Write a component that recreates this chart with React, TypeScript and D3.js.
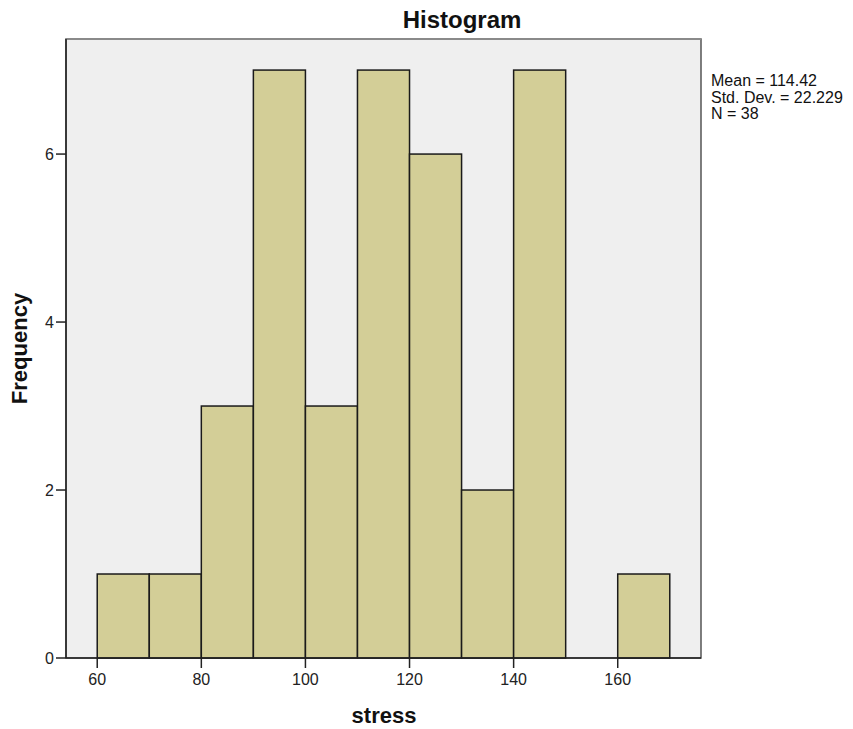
import * as React from "react";
import * as d3 from "d3";

// stress histogram, bins of width 10 starting at 60
const binStarts: number[] = [60, 70, 80, 90, 100, 110, 120, 130, 140, 150, 160];
const counts: number[] = [1, 1, 3, 7, 3, 7, 6, 2, 7, 0, 1];
const binWidth = 10;
const xTicks: number[] = [60, 80, 100, 120, 140, 160];
const yTicks: number[] = [0, 2, 4, 6];
const statsLines: string[] = ["Mean = 114.42", "Std. Dev. = 22.229", "N = 38"];

const width = 853;
const height = 729;
const plot = { left: 66, right: 701, top: 39, bottom: 658 };

const xScale = d3.scaleLinear().domain([54, 176]).range([plot.left, plot.right]);
const yScale = d3.scaleLinear().domain([0, 7.37]).range([plot.bottom, plot.top]);

const font = "'Liberation Sans', Arial, sans-serif";

export default function App() {
  return (
    <svg
      width={width}
      height={height}
      style={{ position: "absolute", left: 0, top: 0, background: "#fff" }}
      fontFamily={font}
    >
      <text x={462} y={28} textAnchor="middle" fontSize={24} fontWeight="bold" fill="#111">
        Histogram
      </text>

      <rect
        x={plot.left}
        y={plot.top}
        width={plot.right - plot.left}
        height={plot.bottom - plot.top}
        fill="#efefef"
        stroke="#555"
        strokeWidth={1.5}
      />
      <line x1={plot.left} x2={plot.right} y1={plot.top} y2={plot.top} stroke="#8a8a8a" strokeWidth={2} />

      {binStarts.map((b, i) =>
        counts[i] > 0 ? (
          <rect
            key={b}
            x={xScale(b)}
            y={yScale(counts[i])}
            width={xScale(b + binWidth) - xScale(b)}
            height={yScale(0) - yScale(counts[i])}
            fill="#d3ce97"
            stroke="#1a1a1a"
            strokeWidth={1.5}
          />
        ) : null
      )}

      <line x1={plot.left} x2={plot.left} y1={plot.top} y2={plot.bottom} stroke="#222" strokeWidth={1.5} />
      <line x1={plot.left} x2={plot.right} y1={plot.bottom} y2={plot.bottom} stroke="#222" strokeWidth={1.5} />

      {xTicks.map(t => (
        <g key={t}>
          <line x1={xScale(t)} x2={xScale(t)} y1={plot.bottom} y2={plot.bottom + 10} stroke="#222" strokeWidth={1.5} />
          <text x={xScale(t)} y={685} textAnchor="middle" fontSize={16} fill="#222">
            {t}
          </text>
        </g>
      ))}

      {yTicks.map(t => (
        <g key={t}>
          <line x1={plot.left - 10} x2={plot.left} y1={yScale(t)} y2={yScale(t)} stroke="#222" strokeWidth={1.5} />
          <text x={plot.left - 12} y={yScale(t) + 6} textAnchor="end" fontSize={16} fill="#222">
            {t}
          </text>
        </g>
      ))}

      <text x={384} y={723} textAnchor="middle" fontSize={22} fontWeight="bold" fill="#111">
        stress
      </text>
      <text
        transform={`translate(27,${(plot.top + plot.bottom) / 2}) rotate(-90)`}
        textAnchor="middle"
        fontSize={22}
        fontWeight="bold"
        fill="#111"
      >
        Frequency
      </text>

      {statsLines.map((s, i) => (
        <text key={s} x={711} y={86 + i * 16.6} fontSize={16} fill="#111">
          {s}
        </text>
      ))}
    </svg>
  );
}
